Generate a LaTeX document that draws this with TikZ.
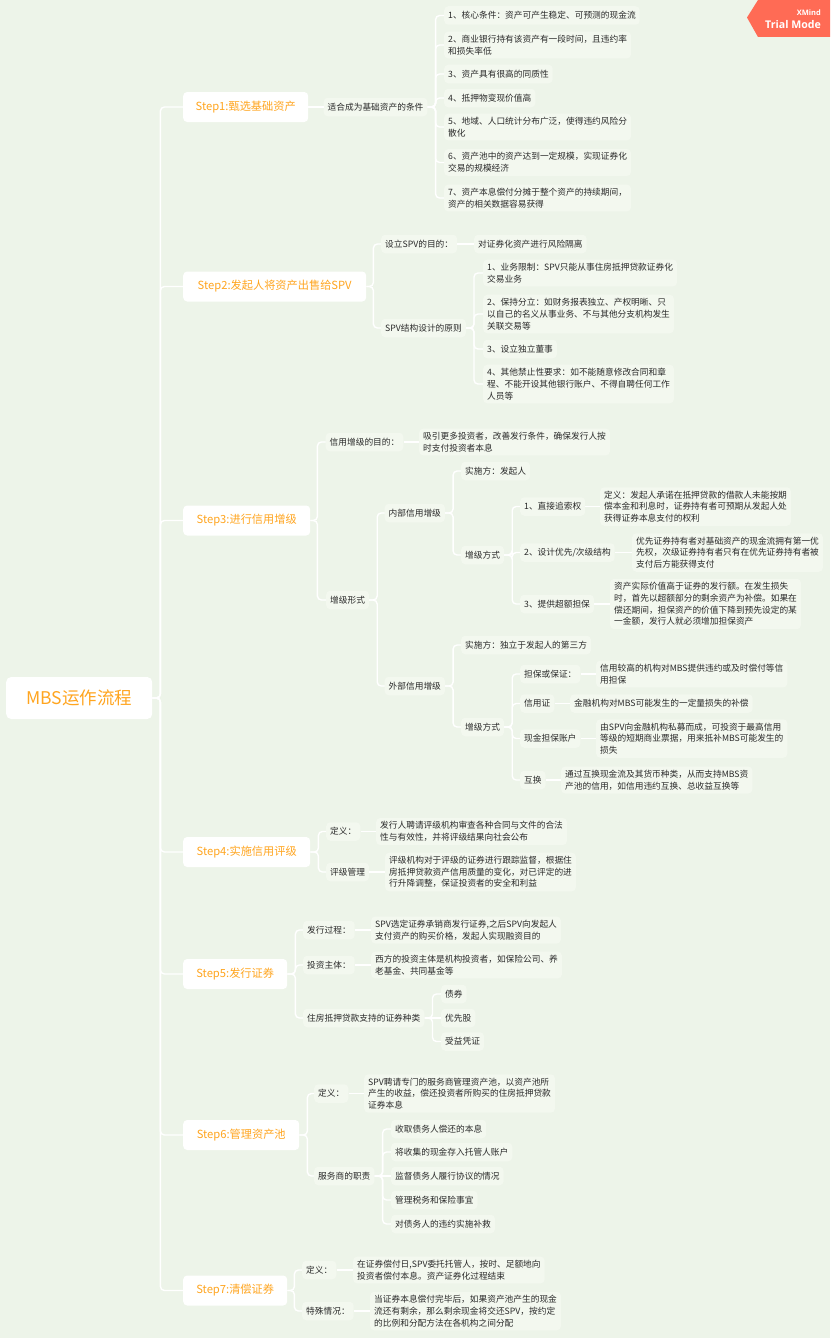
\documentclass[tikz,border=0pt]{standalone}
\usepackage{fontspec}
\setmainfont{Noto Sans CJK SC}
\newfontfamily\badgefont{Open Sans}
\definecolor{bgcol}{RGB}{237,244,233}
\definecolor{leafcol}{RGB}{243,248,239}
\definecolor{inkcol}{RGB}{42,42,42}
\definecolor{stepcol}{RGB}{255,165,31}
\definecolor{badgecol}{RGB}{255,107,85}

\begin{document}
\begin{tikzpicture}[
  x=1pt, y=-1pt,
  root/.style={fill=white, rounded corners=5pt, anchor=west, minimum width=146pt, minimum height=42pt, text=stepcol, font=\fontsize{17.5}{20}\selectfont},
  stepbox/.style={fill=white, rounded corners=4pt, anchor=west, minimum height=30pt, inner xsep=10pt, text=stepcol, font=\fontsize{11.2}{14}\selectfont},
  leaf/.style={fill=leafcol, rounded corners=4pt, anchor=west, minimum height=18.5pt, inner xsep=4pt, inner ysep=3.5pt, align=left, text=inkcol, font=\fontsize{8.7}{11.7}\selectfont},
  link/.style={white, line width=1.4pt, rounded corners=4pt}
]

% Canvas
\fill[bgcol] (0,0) rectangle (830,1338);
\useasboundingbox (0,0) rectangle (830,1338);

% Badge
\fill[badgecol] (747,17.5) -- (758,0) -- (830,0) -- (830,37) -- (758,37) -- cycle;
\node[text=white, anchor=east, inner sep=0pt, font=\badgefont\bfseries\fontsize{7.5}{9}\selectfont] (xm) at (821,13) {XMind};
\node[text=white, anchor=east, inner sep=0pt, font=\badgefont\bfseries\fontsize{10.6}{12}\selectfont] (tm) at (821,24.5) {Trial Mode};

% Root and steps
\node[root] (mbs) at (6,698) {MBS运作流程};
\node[stepbox, minimum width=125pt] (s1) at (183,107) {Step1:甄选基础资产};
\node[stepbox, minimum width=183pt] (s2) at (183,286.5) {Step2:发起人将资产出售给SPV};
\node[stepbox, minimum width=127pt] (s3) at (183,520.5) {Step3:进行信用增级};
\node[stepbox, minimum width=127pt] (s4) at (183,852) {Step4:实施信用评级};
\node[stepbox, minimum width=104pt] (s5) at (183,974) {Step5:发行证券};
\node[stepbox, minimum width=116pt] (s6) at (183,1135) {Step6:管理资产池};
\node[stepbox, minimum width=104pt] (s7) at (183,1290.5) {Step7:清偿证券};

% Step 1
\node[leaf] (cond) at (323.5,107) {适合成为基础资产的条件};
\node[leaf] (cond1) at (444,15.5) {1、核心条件：资产可产生稳定、可预测的现金流};
\node[leaf] (cond2) at (444,45) {2、商业银行持有该资产有一段时间，且违约率\\和损失率低};
\node[leaf] (cond3) at (444,74) {3、资产具有很高的同质性};
\node[leaf] (cond4) at (444,98) {4、抵押物变现价值高};
\node[leaf] (cond5) at (444,127) {5、地域、人口统计分布广泛，使得违约风险分\\散化};
\node[leaf] (cond6) at (444,162.5) {6、资产池中的资产达到一定规模，实现证券化\\交易的规模经济};
\node[leaf] (cond7) at (444,198) {7、资产本息偿付分摊于整个资产的持续期间，\\资产的相关数据容易获得};

% Step 2
\node[leaf] (aim) at (381,244) {设立SPV的目的：};
\node[leaf] (aimx) at (474,244) {对证券化资产进行风险隔离};
\node[leaf] (rule) at (381,328) {SPV结构设计的原则};
\node[leaf] (rule1) at (483,273) {1、业务限制：SPV只能从事住房抵押贷款证券化\\交易业务};
\node[leaf] (rule2) at (483,314) {2、保持分立：如财务报表独立、产权明晰、只\\以自己的名义从事业务、不与其他分支机构发生\\关联交易等};
\node[leaf] (rule3) at (483,349) {3、设立独立董事};
\node[leaf] (rule4) at (483,384) {4、其他禁止性要求：如不能随意修改合同和章\\程、不能开设其他银行账户、不得自聘任何工作\\人员等};

% Step 3
\node[leaf] (goal) at (325.5,442) {信用增级的目的：};
\node[leaf] (goalx) at (419,442) {吸引更多投资者，改善发行条件，确保发行人按\\时支付投资者本息};
\node[leaf] (form) at (326,600) {增级形式};
\node[leaf] (inner) at (384.5,513) {内部信用增级};
\node[leaf] (outer) at (384.5,686) {外部信用增级};
\node[leaf] (inby) at (461,471) {实施方：发起人};
\node[leaf] (inway) at (461,555) {增级方式};
\node[leaf] (in1) at (520,506.5) {1、直接追索权};
\node[leaf] (in1x) at (600,506.5) {定义：发起人承诺在抵押贷款的借款人未能按期\\偿本金和利息时，证券持有者可预期从发起人处\\获得证券本息支付的权利};
\node[leaf] (in2) at (520,552.5) {2、设计优先/次级结构};
\node[leaf] (in2x) at (632,552.5) {优先证券持有者对基础资产的现金流拥有第一优\\先权，次级证券持有者只有在优先证券持有者被\\支付后方能获得支付};
\node[leaf] (in3) at (520,604) {3、提供超额担保};
\node[leaf] (in3x) at (610,604) {资产实际价值高于证券的发行额。在发生损失\\时，首先以超额部分的剩余资产为补偿。如果在\\偿还期间，担保资产的价值下降到预先设定的某\\一金额，发行人就必须增加担保资产};
\node[leaf] (outby) at (461,645) {实施方：独立于发起人的第三方};
\node[leaf] (outway) at (461,727) {增级方式};
\node[leaf] (out1) at (520,674) {担保或保证：};
\node[leaf] (out1x) at (596,674) {信用较高的机构对MBS提供违约或及时偿付等信\\用担保};
\node[leaf] (out2) at (520,703.5) {信用证};
\node[leaf] (out2x) at (570,703.5) {金融机构对MBS可能发生的一定量损失的补偿};
\node[leaf] (out3) at (520,738.5) {现金担保账户};
\node[leaf] (out3x) at (596,738.5) {由SPV向金融机构私募而成，可投资于最高信用\\等级的短期商业票据，用来抵补MBS可能发生的\\损失};
\node[leaf] (out4) at (520,780) {互换};
\node[leaf] (out4x) at (561,780) {通过互换现金流及其货币种类，从而支持MBS资\\产池的信用，如信用违约互换、总收益互换等};

% Step 4
\node[leaf] (rate) at (326,831.5) {定义：};
\node[leaf] (ratex) at (376,831.5) {发行人聘请评级机构审查各种合同与文件的合法\\性与有效性，并将评级结果向社会公布};
\node[leaf] (rmgt) at (326,872) {评级管理};
\node[leaf] (rmgtx) at (385,872) {评级机构对于评级的证券进行跟踪监督，根据住\\房抵押贷款资产信用质量的变化，对已评定的进\\行升降调整，保证投资者的安全和利益};

% Step 5
\node[leaf] (iss) at (303,930) {发行过程：};
\node[leaf] (issx) at (371,930) {SPV选定证券承销商发行证券,之后SPV向发起人\\支付资产的购买价格，发起人实现融资目的};
\node[leaf] (inv) at (303,965) {投资主体：};
\node[leaf] (invx) at (371,965) {西方的投资主体是机构投资者，如保险公司、养\\老基金、共同基金等};
\node[leaf] (kind) at (303,1018) {住房抵押贷款支持的证券种类};
\node[leaf] (kind1) at (441,994) {债券};
\node[leaf] (kind2) at (441,1018) {优先股};
\node[leaf] (kind3) at (441,1041.5) {受益凭证};

% Step 6
\node[leaf] (pool) at (314,1093.5) {定义：};
\node[leaf] (poolx) at (364,1093.5) {SPV聘请专门的服务商管理资产池，以资产池所\\产生的收益，偿还投资者所购买的住房抵押贷款\\证券本息};
\node[leaf] (duty) at (314,1176) {服务商的职责};
\node[leaf] (duty1) at (391,1129) {收取债务人偿还的本息};
\node[leaf] (duty2) at (391,1152) {将收集的现金存入托管人账户};
\node[leaf] (duty3) at (391,1176) {监督债务人履行协议的情况};
\node[leaf] (duty4) at (391,1200) {管理税务和保险事宜};
\node[leaf] (duty5) at (391,1224) {对债务人的违约实施补救};

% Step 7
\node[leaf] (pay) at (302,1270) {定义：};
\node[leaf] (payx) at (353,1270) {在证券偿付日,SPV委托托管人，按时、足额地向\\投资者偿付本息。资产证券化过程结束};
\node[leaf] (spec) at (302,1311) {特殊情况：};
\node[leaf] (specx) at (370,1311) {当证券本息偿付完毕后，如果资产池产生的现金\\流还有剩余，那么剩余现金将交还SPV，按约定\\的比例和分配方法在各机构之间分配};

% Root links
\draw[link] (mbs.east) -- ++(8,0) |- (s1.west);
\draw[link] (mbs.east) -- ++(8,0) |- (s2.west);
\draw[link] (mbs.east) -- ++(8,0) |- (s3.west);
\draw[link] (mbs.east) -- ++(8,0) |- (s4.west);
\draw[link] (mbs.east) -- ++(8,0) |- (s5.west);
\draw[link] (mbs.east) -- ++(8,0) |- (s6.west);
\draw[link] (mbs.east) -- ++(8,0) |- (s7.west);

% Step 1 links
\draw[link] (s1.east) -- (cond.west);
\draw[link] (cond.east) -- ++(8,0) |- (cond1.west);
\draw[link] (cond.east) -- ++(8,0) |- (cond2.west);
\draw[link] (cond.east) -- ++(8,0) |- (cond3.west);
\draw[link] (cond.east) -- ++(8,0) |- (cond4.west);
\draw[link] (cond.east) -- ++(8,0) |- (cond5.west);
\draw[link] (cond.east) -- ++(8,0) |- (cond6.west);
\draw[link] (cond.east) -- ++(8,0) |- (cond7.west);

% Step 2 links
\draw[link] (s2.east) -- ++(7,0) |- (aim.west);
\draw[link] (s2.east) -- ++(7,0) |- (rule.west);
\draw[link] (aim.east) -- (aimx.west);
\draw[link] (rule.east) -- ++(8,0) |- (rule1.west);
\draw[link] (rule.east) -- ++(8,0) |- (rule2.west);
\draw[link] (rule.east) -- ++(8,0) |- (rule3.west);
\draw[link] (rule.east) -- ++(8,0) |- (rule4.west);

% Step 3 links
\draw[link] (s3.east) -- ++(7,0) |- (goal.west);
\draw[link] (s3.east) -- ++(7,0) |- (form.west);
\draw[link] (goal.east) -- (goalx.west);
\draw[link] (form.east) -- ++(8,0) |- (inner.west);
\draw[link] (form.east) -- ++(8,0) |- (outer.west);
\draw[link] (inner.east) -- ++(8,0) |- (inby.west);
\draw[link] (inner.east) -- ++(8,0) |- (inway.west);
\draw[link] (inway.east) -- ++(8,0) |- (in1.west);
\draw[link] (inway.east) -- ++(8,0) |- (in2.west);
\draw[link] (inway.east) -- ++(8,0) |- (in3.west);
\draw[link] (in1.east) -- (in1x.west);
\draw[link] (in2.east) -- (in2x.west);
\draw[link] (in3.east) -- (in3x.west);
\draw[link] (outer.east) -- ++(8,0) |- (outby.west);
\draw[link] (outer.east) -- ++(8,0) |- (outway.west);
\draw[link] (outway.east) -- ++(8,0) |- (out1.west);
\draw[link] (outway.east) -- ++(8,0) |- (out2.west);
\draw[link] (outway.east) -- ++(8,0) |- (out3.west);
\draw[link] (outway.east) -- ++(8,0) |- (out4.west);
\draw[link] (out1.east) -- (out1x.west);
\draw[link] (out2.east) -- (out2x.west);
\draw[link] (out3.east) -- (out3x.west);
\draw[link] (out4.east) -- (out4x.west);

% Step 4 links
\draw[link] (s4.east) -- ++(8,0) |- (rate.west);
\draw[link] (s4.east) -- ++(8,0) |- (rmgt.west);
\draw[link] (rate.east) -- (ratex.west);
\draw[link] (rmgt.east) -- (rmgtx.west);

% Step 5 links
\draw[link] (s5.east) -- ++(8,0) |- (iss.west);
\draw[link] (s5.east) -- ++(8,0) |- (inv.west);
\draw[link] (s5.east) -- ++(8,0) |- (kind.west);
\draw[link] (iss.east) -- (issx.west);
\draw[link] (inv.east) -- (invx.west);
\draw[link] (kind.east) -- ++(8,0) |- (kind1.west);
\draw[link] (kind.east) -- (kind2.west);
\draw[link] (kind.east) -- ++(8,0) |- (kind3.west);

% Step 6 links
\draw[link] (s6.east) -- ++(8,0) |- (pool.west);
\draw[link] (s6.east) -- ++(8,0) |- (duty.west);
\draw[link] (pool.east) -- (poolx.west);
\draw[link] (duty.east) -- ++(8,0) |- (duty1.west);
\draw[link] (duty.east) -- ++(8,0) |- (duty2.west);
\draw[link] (duty.east) -- (duty3.west);
\draw[link] (duty.east) -- ++(8,0) |- (duty4.west);
\draw[link] (duty.east) -- ++(8,0) |- (duty5.west);

% Step 7 links
\draw[link] (s7.east) -- ++(7,0) |- (pay.west);
\draw[link] (s7.east) -- ++(7,0) |- (spec.west);
\draw[link] (pay.east) -- (payx.west);
\draw[link] (spec.east) -- (specx.west);

\end{tikzpicture}
\end{document}
